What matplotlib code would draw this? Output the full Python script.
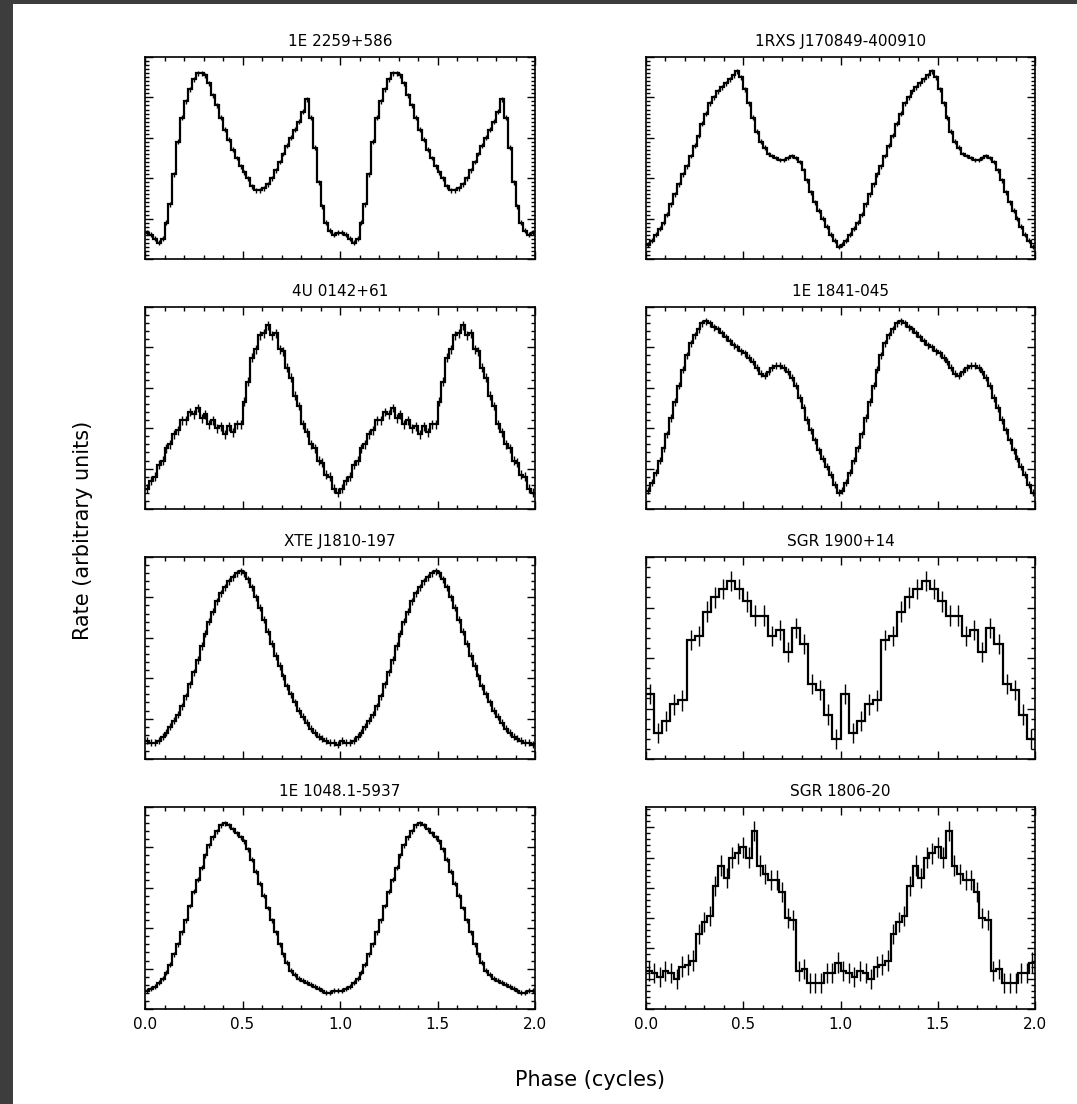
import numpy as np
import matplotlib
matplotlib.use("Agg")
import matplotlib.pyplot as plt
from matplotlib.patches import Rectangle
from matplotlib.ticker import MultipleLocator, FormatStrFormatter

# ---- data: one cycle of each pulse profile (arbitrary units, 0-100 scale) ----
names = ["1E 2259+586", "1RXS J170849-400910",
         "4U 0142+61", "1E 1841-045",
         "XTE J1810-197", "SGR 1900+14",
         "1E 1048.1-5937", "SGR 1806-20"]

prof_1e2259 = [13, 12, 10, 8, 10, 18, 27, 42, 58, 70, 78, 84, 89, 92, 92, 91, 87, 81, 76, 70,
               64, 59, 54, 50, 46, 43, 40, 36, 34, 34, 35, 37, 40, 44, 48, 52, 56, 60, 64, 68,
               73, 79, 70, 55, 38, 26, 18, 14, 12, 13]
prof_1rxs = [7, 9, 12, 15, 18, 22, 27, 32, 37, 42, 46, 51, 56, 61, 67, 72, 77, 80, 83, 85,
             87, 89, 91, 93, 90, 84, 77, 70, 63, 58, 55, 52, 51, 50, 49, 49, 50, 51, 50, 48,
             44, 39, 33, 28, 24, 20, 16, 12, 9, 6]
prof_4u0142 = [10, 14, 16, 22, 24, 30, 32, 37, 39, 44, 44, 48, 47, 50, 45, 47, 42, 44, 40, 41,
               37, 41, 38, 42, 42, 53, 63, 75, 79, 86, 87, 91, 86, 87, 79, 78, 70, 65, 56, 51,
               42, 38, 32, 30, 24, 23, 17, 16, 10, 8]
prof_1e1841 = [9, 13, 18, 24, 30, 37, 45, 53, 61, 69, 76, 82, 86, 89, 92, 93, 92, 90, 89, 87,
               85, 83, 81, 80, 78, 77, 75, 73, 70, 67, 66, 68, 70, 71, 71, 70, 68, 65, 61, 55,
               50, 44, 39, 34, 29, 25, 21, 17, 12, 8]
prof_xte = [9, 8, 8, 9, 11, 13, 16, 19, 22, 26, 31, 37, 43, 49, 56, 62, 68, 73, 78, 82,
            85, 88, 90, 92, 93, 92, 89, 85, 80, 75, 69, 63, 57, 51, 46, 41, 36, 32, 28, 24,
            21, 18, 15, 13, 11, 10, 9, 8, 8, 7]
prof_sgr1900 = [32, 13, 19, 27, 29, 59, 61, 73, 80, 84, 88, 84, 78, 71, 71, 61, 64, 53, 65, 57,
                37, 34, 22, 10]
prof_1e1048 = [9, 10, 11, 13, 15, 18, 22, 27, 32, 38, 44, 51, 58, 64, 70, 76, 81, 85, 88, 91,
               92, 91, 89, 87, 85, 83, 79, 74, 68, 62, 56, 50, 44, 38, 32, 27, 23, 19, 17, 15,
               14, 13, 12, 11, 10, 9, 8, 8, 9, 9]
prof_sgr1806 = [19, 18, 16, 19, 18, 15, 21, 22, 24, 37, 43, 46, 61, 71, 65, 75, 77, 80, 75, 88,
                71, 67, 64, 64, 58, 45, 44, 19, 20, 13, 13, 13, 18, 18, 23]

profiles = [prof_1e2259, prof_1rxs, prof_4u0142, prof_1e1841,
            prof_xte, prof_sgr1900, prof_1e1048, prof_sgr1806]
errors = [1.2, 1.2, 2.2, 1.8, 1.8, 5.0, 1.2, 5.0]   # per-panel 1-sigma error (same units)
n_cycles = 2
xticks = [0.0, 0.5, 1.0, 1.5, 2.0]

# ---- style / layout ----
W, H = 1077, 1104
fig = plt.figure(figsize=(W / 100, H / 100), dpi=100)
fig.patch.set_facecolor("#3d3d3d")
fig.add_artist(Rectangle((13 / W, 0), 1 - 13 / W, (H - 4) / H, transform=fig.transFigure,
                         facecolor="white", edgecolor="none", zorder=-10))

col_x = [145, 646]
col_w = [390, 389]
row_top = [57, 307, 557, 807]
ph = 202
ytick_spec = [(20, 2), (20, 2), (20, 4), (20, 4), (20, 4), (25, 5), (20, 4), (15, 3)]

font = "DejaVu Sans"
for i, (name, prof, err) in enumerate(zip(names, profiles, errors)):
    r, c = divmod(i, 2)
    x0 = col_x[c]
    y0 = row_top[r] + ph
    ax = fig.add_axes([x0 / W, 1 - y0 / H, col_w[c] / W, ph / H])
    vals = np.tile(np.asarray(prof, float), n_cycles)
    nb = len(vals)
    edges = np.linspace(0, n_cycles, nb + 1)
    centers = 0.5 * (edges[1:] + edges[:-1])
    ax.errorbar(centers, vals, yerr=err, fmt="none", ecolor="black", elinewidth=1.0, capsize=0)
    ax.stairs(vals, edges, color="black", linewidth=1.6, baseline=None)
    ax.set_xlim(0, n_cycles)
    ax.set_ylim(0, 100)
    ax.xaxis.set_major_locator(MultipleLocator(0.5))
    ax.xaxis.set_minor_locator(MultipleLocator(0.1))
    maj, mnr = ytick_spec[i]
    ax.yaxis.set_major_locator(MultipleLocator(maj))
    ax.yaxis.set_minor_locator(MultipleLocator(mnr))
    ax.tick_params(which="both", direction="in", top=True, right=True, color="black")
    ax.tick_params(which="major", length=6, width=1.0)
    ax.tick_params(which="minor", length=3, width=1.0)
    ax.set_yticklabels([])
    for s in ax.spines.values():
        s.set_linewidth(1.2)
    if r == 3:
        ax.set_xticks(xticks)
        ax.xaxis.set_major_formatter(FormatStrFormatter("%.1f"))
        for lab in ax.get_xticklabels():
            lab.set_fontfamily(font)
            lab.set_fontsize(11)
        ax.tick_params(axis="x", which="major", pad=6)
    else:
        ax.set_xticklabels([])
    ax.set_title(name, fontsize=11, fontfamily=font, pad=8)

fig.text(590 / W, 1 - 1080 / H, "Phase (cycles)", ha="center", va="center",
         fontsize=15, fontfamily=font)
fig.text(83 / W, 1 - 530 / H, "Rate (arbitrary units)", ha="center", va="center",
         rotation=90, fontsize=15, fontfamily=font)

fig.savefig("out.png", dpi=100, facecolor=fig.get_facecolor())
